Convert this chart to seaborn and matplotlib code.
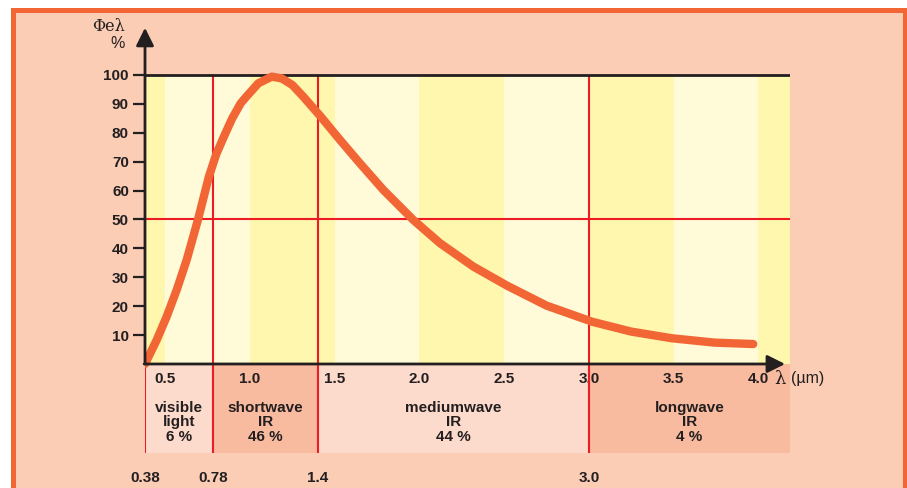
import matplotlib
matplotlib.use("Agg")
import matplotlib.pyplot as plt
from matplotlib.patches import Rectangle
import numpy as np
import pandas as pd
import seaborn as sns

# Data
curve_lambda = [0.38, 0.449, 0.508, 0.567, 0.626, 0.693, 0.757, 0.80, 0.846, 0.895, 0.945,
                0.98, 1.049, 1.128, 1.187, 1.25, 1.314, 1.417, 1.531, 1.649, 1.787,
                1.964, 2.121, 2.318, 2.52, 2.75, 3.02, 3.25, 3.49, 3.74, 3.97]
curve_value = [0, 8.3, 16.4, 25.6, 36.0, 50.0, 64.8, 72.5, 78.7, 85.0, 90.2,
               92.6, 97.1, 99.4, 98.8, 96.5, 92.5, 85.6, 77.5, 69.4, 60.2,
               49.8, 41.8, 33.7, 27.0, 20.2, 14.6, 11.2, 8.9, 7.4, 6.9]

xtick_values = [0.5, 1.0, 1.5, 2.0, 2.5, 3.0, 3.5, 4.0]
xtick_labels = ["0.5", "1.0", "1.5", "2.0", "2.5", "3.0", "3.5", "4.0"]
ytick_values = [10, 20, 30, 40, 50, 60, 70, 80, 90, 100]

band_edges = [0.38, 0.78, 1.4, 3.0]
band_edge_labels = ["0.38", "0.78", "1.4", "3.0"]
band_names = ["visible\nlight", "shortwave\nIR", "mediumwave\nIR", "longwave\nIR"]
band_shares = ["6 %", "46 %", "44 %", "4 %"]

stripe_edges = [0.38, 0.5, 1.0, 1.5, 2.0, 2.5, 3.0, 3.5, 4.0]

# Layout / style
X_MIN, X_MAX = 0.38, 4.187
Y_MIN, Y_MAX = -42.9, 119.0
BAND_BOTTOM = -30.8
FS = 11

SALMON = "#FBCDB5"
ORANGE = "#F26535"
RED = "#ED1C24"
DARK = "#231F20"
YELLOW = "#FFF7AE"
CREAM = "#FFFAD8"
PINK_LIGHT = "#FDDBCC"
PINK_DARK = "#F9BBA0"

sns.set_theme(style="white")
plt.rcParams["font.family"] = ["Liberation Sans", "DejaVu Sans"]

fig = plt.figure(figsize=(9.07, 4.88), dpi=100)
fig.patch.set_facecolor("white")

# orange frame
fig.patches.append(Rectangle((12.5 / 907, -0.1), (904.5 - 12.5) / 907, 1.1 - 9.5 / 488,
                             transform=fig.transFigure, facecolor=SALMON,
                             edgecolor=ORANGE, linewidth=3.6, zorder=-5))

ax = fig.add_axes([145 / 907, 0, 645 / 907, 468 / 488])
ax.set_zorder(1)
ax.set_facecolor("none")
ax.set_xlim(X_MIN, X_MAX)
ax.set_ylim(Y_MIN, Y_MAX)

# background stripes
edges = stripe_edges + [X_MAX]
for i in range(len(edges) - 1):
    ax.fill_between([edges[i], edges[i + 1]], 0, 100,
                    color=YELLOW if i % 2 == 0 else CREAM, lw=0, zorder=0)

# bands below the axis
band_right = band_edges[1:] + [X_MAX]
for i, (a, b) in enumerate(zip(band_edges, band_right)):
    ax.fill_between([a, b], BAND_BOTTOM, 0,
                    color=PINK_DARK if i % 2 else PINK_LIGHT, lw=0, zorder=0)
    ax.text((a + b) / 2, -20.2, band_names[i] + "\n" + band_shares[i],
            ha="center", va="center", fontsize=FS, fontweight="bold",
            color=DARK, linespacing=1.08)
    ax.text(a, -39.4, band_edge_labels[i], ha="center", va="center",
            fontsize=FS, fontweight="bold", color=DARK)

# red guide lines
ax.vlines(band_edges[1:], BAND_BOTTOM, 100, color=RED, lw=1.5, zorder=2)
ax.vlines(band_edges[0], BAND_BOTTOM, 0, color=RED, lw=1.5, zorder=2)
ax.hlines(50, X_MIN, X_MAX, color=RED, lw=1.5, zorder=2)
ax.hlines(100, X_MIN, X_MAX, color=DARK, lw=2, zorder=3)

# curve
df = pd.DataFrame({"lam": curve_lambda, "val": curve_value})
sns.lineplot(data=df, x="lam", y="val", ax=ax, sort=False, color=ORANGE,
             linewidth=6, solid_capstyle="round", solid_joinstyle="round", zorder=4)

# axes arrows
arrow = dict(arrowstyle="-|>,head_length=0.6,head_width=0.3", color=DARK, lw=2,
             mutation_scale=18, shrinkA=0, shrinkB=0)
ax.annotate("", xy=(X_MIN, 116.3), xytext=(X_MIN, 0), arrowprops=arrow, zorder=5,
            annotation_clip=False)
ax.annotate("", xy=(4.158, 0), xytext=(X_MIN - 0.005, 0), arrowprops=arrow, zorder=5,
            annotation_clip=False)

for s in ax.spines.values():
    s.set_visible(False)
ax.spines["bottom"].set_position(("data", 0))

ax.set_yticks(ytick_values)
ax.set_yticklabels([str(v) for v in ytick_values])
ax.set_xticks(xtick_values)
ax.set_xticklabels(xtick_labels)
ax.tick_params(axis="y", left=True, length=8.6, width=1.6, color=DARK, pad=3,
               labelsize=FS, labelcolor=DARK)
ax.tick_params(axis="x", bottom=True, length=0, pad=6, labelsize=FS, labelcolor=DARK)
for lbl in ax.get_xticklabels() + ax.get_yticklabels():
    lbl.set_fontweight("bold")
ax.set_xlabel("")
ax.set_ylabel("")
ax.grid(False)

# axis titles
ax.text(0.167, 116.6, "Φeλ", ha="center", va="center", fontsize=11.5,
        family=["DejaVu Serif"], color=DARK)
ax.text(0.221, 110.7, "%", ha="center", va="center", fontsize=11.5, color=DARK)
ax.text(4.095, -5.1, "λ", ha="left", va="center", fontsize=13,
        family=["DejaVu Serif"], color=DARK)
ax.text(4.19, -5.1, "(µm)", ha="left", va="center", fontsize=11.5, color=DARK)

fig.savefig("out.png", dpi=100)
